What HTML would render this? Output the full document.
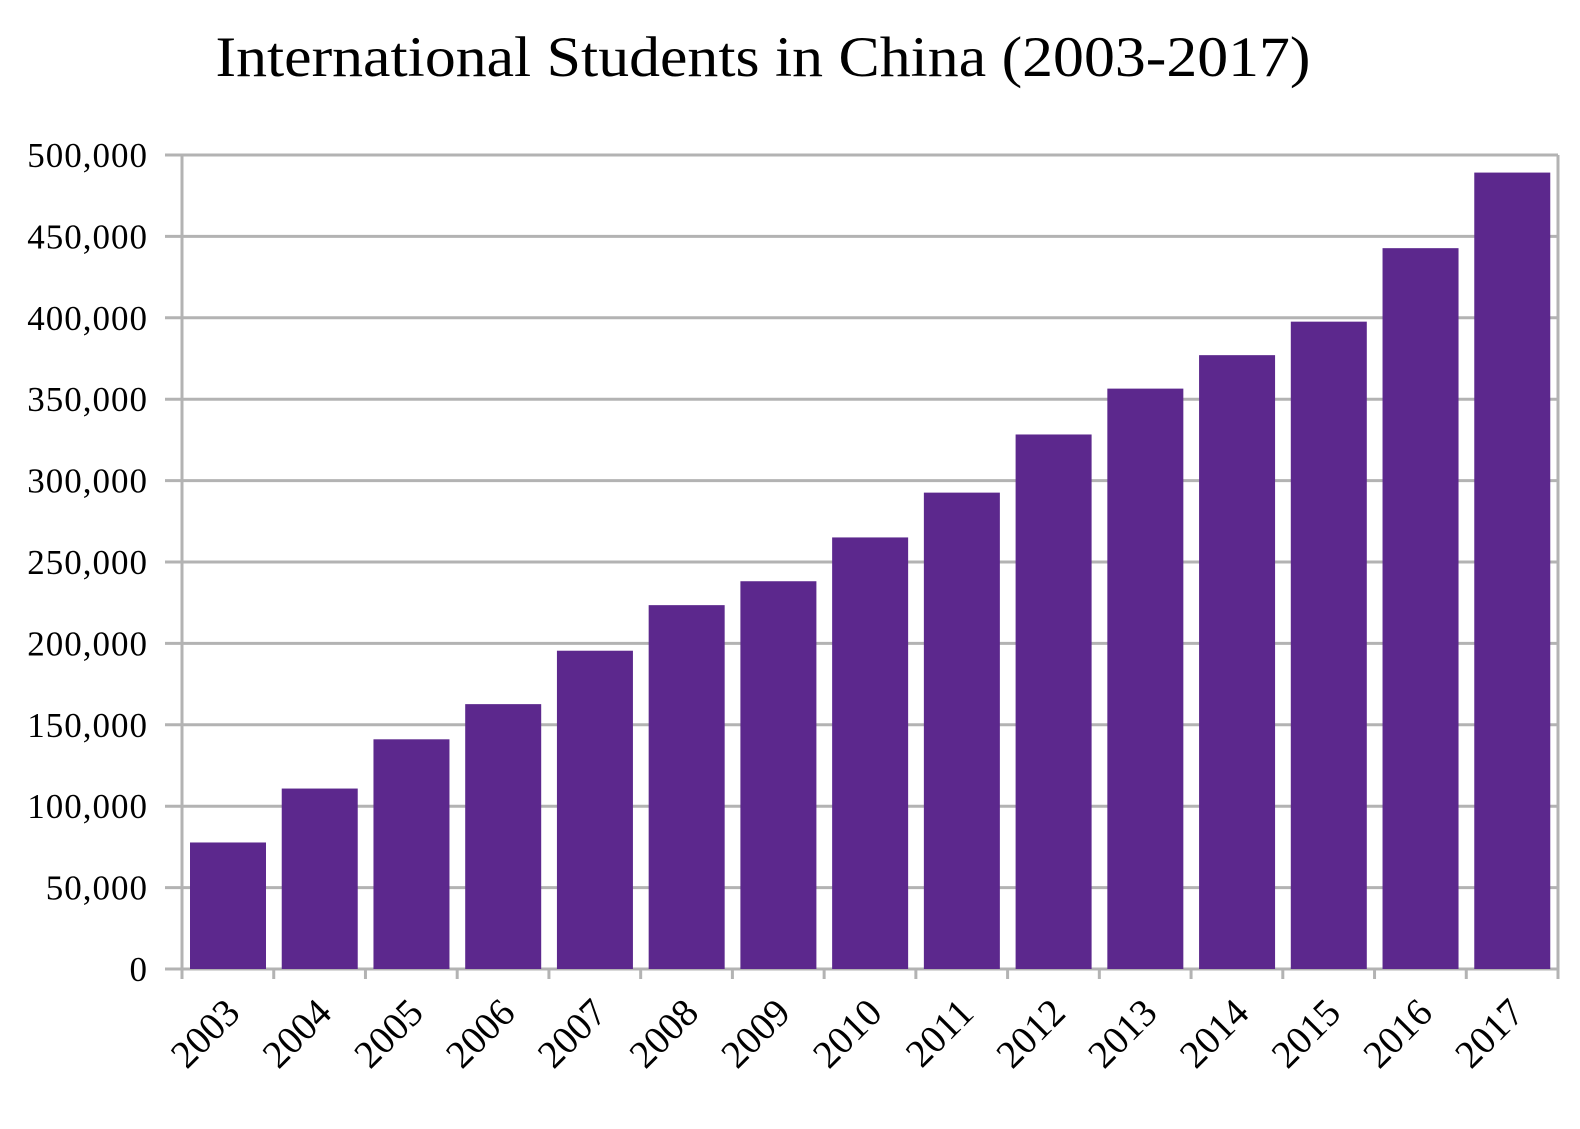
<!DOCTYPE html>
<html><head><style>html,body{margin:0;padding:0;background:#fff;}</style></head>
<body>
<svg width="1580" height="1124" xmlns="http://www.w3.org/2000/svg" font-family="'Liberation Serif', serif">
<rect width="1580" height="1124" fill="#fff"/>
<text x="763" y="76" font-size="57" text-anchor="middle" textLength="1095" lengthAdjust="spacingAndGlyphs">International Students in China (2003-2017)</text>
<g id="grid" stroke="#b3b3b3" stroke-width="3">
</g>
<g id="bars" fill="#5c288d"></g>
<g id="lbl" font-size="35"></g>
<script>
var ns="http://www.w3.org/2000/svg";
function el(p,t,a,txt){var e=document.createElementNS(ns,t);for(var k in a)e.setAttribute(k,a[k]);if(txt)e.textContent=txt;p.appendChild(e);return e;}
var g=document.getElementById('grid'),b=document.getElementById('bars'),l=document.getElementById('lbl');
var y0=969,sc=814/500000,x0=182,x1=1558,cw=(x1-x0)/15;
for(var i=0;i<=10;i++){var y=y0-i*50000*sc;
 el(g,'line',{x1:165,x2:x1,y1:y,y2:y});
 var v=i*50000;var s=v==0?'0':(v/1000)+',000';
 el(l,'text',{x:148,y:y+12,'text-anchor':'end','letter-spacing':'1'},s);}
el(g,'line',{x1:x0,x2:x0,y1:155,y2:y0+10});
el(g,'line',{x1:x1,x2:x1,y1:155,y2:y0+10});
var vals=[77715,110844,141087,162695,195503,223499,238184,265090,292611,328330,356499,377054,397635,442773,489200];
for(var i=0;i<15;i++){var cx=x0+i*cw;
 el(g,'line',{x1:cx+cw,x2:cx+cw,y1:y0,y2:y0+10});
 var h=vals[i]*sc;
 el(b,'rect',{x:cx+8,y:y0-h,width:76,height:h});
 var tx=cx+cw/2+14,ty=y0+46;
 el(l,'text',{x:tx,y:ty,'text-anchor':'end','font-size':'39',transform:'rotate(-45 '+tx+' '+ty+')'},String(2003+i));}
</script>
</svg>
</body></html>
